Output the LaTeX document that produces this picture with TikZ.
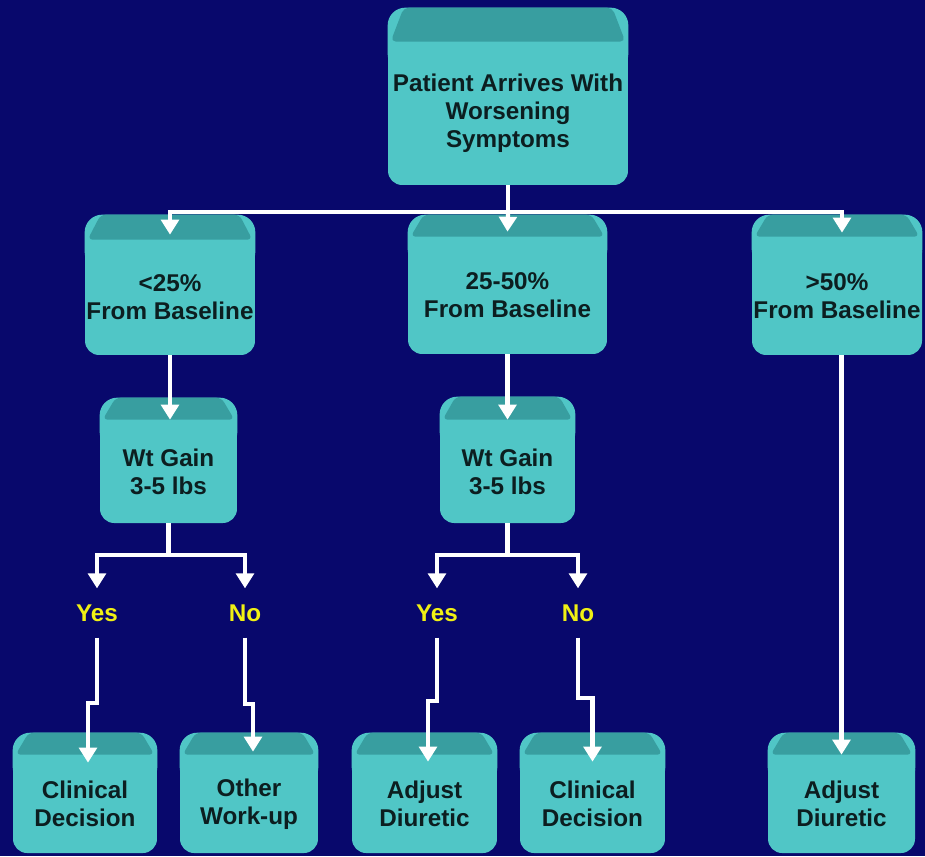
\documentclass[tikz,border=0pt]{standalone}
\usepackage{fontspec}
\setmainfont{Liberation Sans}
\usetikzlibrary{arrows.meta,backgrounds}

\definecolor{navy}{RGB}{8,8,108}
\definecolor{cardbody}{RGB}{80,198,198}
\definecolor{cardtop}{RGB}{56,158,160}
\definecolor{cardink}{RGB}{12,30,32}
\definecolor{answer}{RGB}{240,240,20}

\tikzset{
  card/.style={fill=cardbody, rounded corners=8pt, inner sep=0pt, align=center,
    text=cardink, font=\bfseries\fontsize{13.8}{16}\selectfont},
  answer/.style={text=answer, inner xsep=2pt, inner ysep=9pt,
    font=\bfseries\fontsize{13.8}{16}\selectfont},
  wire/.style={draw=white, line width=2.4pt},
  link/.style={wire, -{Triangle[width=10pt,length=8.5pt]}}
}

\begin{document}
\begin{tikzpicture}[x=0.02cm,y=-0.02cm]
\useasboundingbox (0,0) rectangle (925,856);
% boxes (light part below the top band)
\node[card, minimum width=4.8cm, minimum height=2.86cm] (p0) at (508,113.5) {Patient Arrives With\\Worsening\\Symptoms};
\node[card, minimum width=3.4cm, minimum height=2.3cm] (a1) at (170,297.5) {<25\%\\From Baseline};
\node[card, minimum width=3.98cm, minimum height=2.34cm] (b1) at (507.5,295.5) {25-50\%\\From Baseline};
\node[card, minimum width=3.4cm, minimum height=2.36cm] (c1) at (837,296) {>50\%\\From Baseline};
\node[card, minimum width=2.74cm, minimum height=2.06cm] (a2) at (168.5,471.5) {Wt Gain\\3-5 lbs};
\node[card, minimum width=2.7cm, minimum height=2.06cm] (b2) at (507.5,471.5) {Wt Gain\\3-5 lbs};
\node[card, minimum width=2.88cm, minimum height=1.96cm] (a3) at (85,804) {Clinical\\Decision};
\node[card, minimum width=2.76cm, minimum height=1.96cm] (a4) at (249,804) {Other\\Work-up};
\node[card, minimum width=2.9cm, minimum height=1.96cm] (b3) at (424.5,804) {Adjust\\Diuretic};
\node[card, minimum width=2.9cm, minimum height=1.96cm] (b4) at (592.5,804) {Clinical\\Decision};
\node[card, minimum width=2.94cm, minimum height=1.96cm] (c2) at (841.5,804) {Adjust\\Diuretic};
% answers
\node[answer] (ya) at (97,613) {Yes};
\node[answer] (na) at (245,613) {No};
\node[answer] (yb) at (437,613) {Yes};
\node[answer] (nb) at (578,613) {No};
% background and top bands
\begin{scope}[on background layer]
\fill[navy] (0,0) rectangle (925,856);
\foreach \n/\b in {p0/0.68, a1/0.5, b1/0.44, c1/0.44, a2/0.44, b2/0.46,
                   a3/0.44, a4/0.44, b3/0.44, b4/0.44, c2/0.44} {
  \fill[cardbody, rounded corners=10pt] ([yshift=-0.6cm]\n.north west) -- ([yshift=\b cm]\n.north west)
    -- ([yshift=\b cm]\n.north east) -- ([yshift=-0.6cm]\n.north east) -- cycle;
  \fill[cardtop, rounded corners=3pt] ([xshift=0.32cm,yshift=\b cm]\n.north west)
    -- ([xshift=-0.32cm,yshift=\b cm]\n.north east) -- ([xshift=-0.06cm]\n.north east)
    -- ([xshift=0.06cm]\n.north west) -- cycle;
}
\end{scope}
% connectors
\coordinate (j0) at (508,212);
\draw[wire] (p0.south) -- (j0);
\draw[link] (j0) -| ([yshift=0.1cm]a1.north);
\draw[link] (j0) -- ([yshift=0.1cm]b1.north);
\draw[link] (j0) -| ([xshift=0.1cm,yshift=0.08cm]c1.north);
\draw[link] (a1.south) -- (a1.south |- a2.north);
\draw[link] (b1.south) -- (b1.south |- b2.north);
\draw[link] (c2.north |- c1.south) -- (c2.north);
\draw[wire] (a2.south) -- ++(0,32) coordinate (ja);
\draw[link] (ja) -| (ya.north);
\draw[link] (ja) -| (na.north);
\draw[wire] (b2.south) -- ++(0,32) coordinate (jb);
\draw[link] (jb) -| (yb.north);
\draw[link] (jb) -| (nb.north);
\draw[link] (ya.south) -- ++(0,65) -| ([xshift=0.06cm,yshift=-0.16cm]a3.north);
\draw[link] (na.south) -- ++(0,66) -| ([xshift=0.08cm,yshift=0.06cm]a4.north);
\draw[link] (yb.south) -- ++(0,63) -| ([xshift=0.07cm,yshift=-0.14cm]b3.north);
\draw[link] (nb.south) -- ++(0,60) -| ([yshift=-0.14cm]b4.north);
\end{tikzpicture}
\end{document}
